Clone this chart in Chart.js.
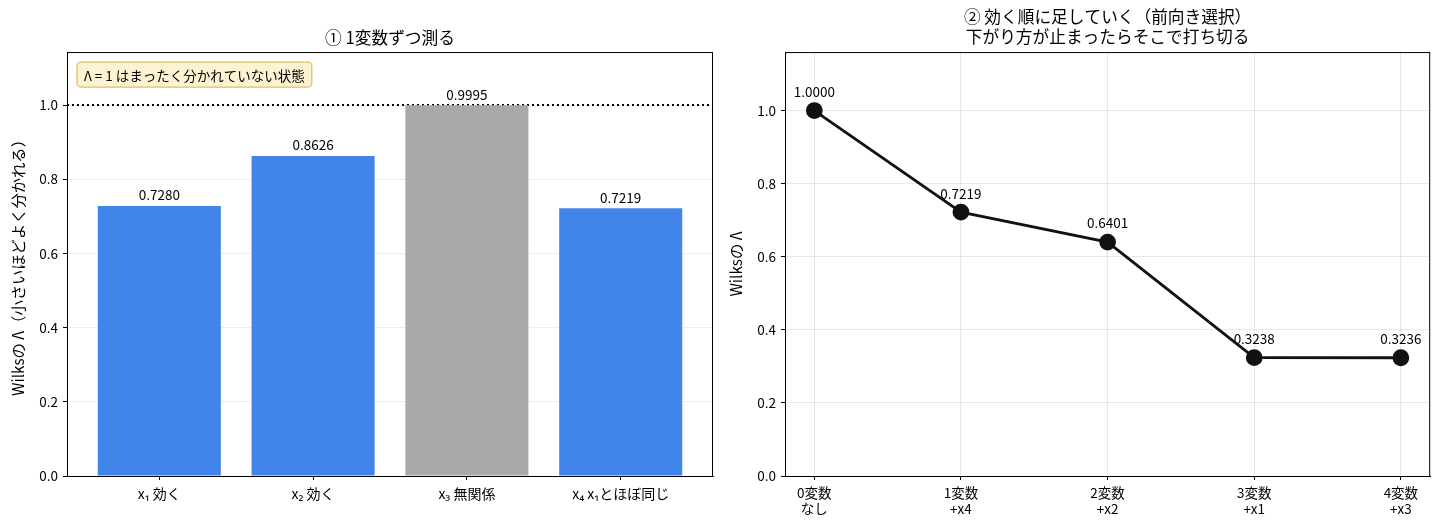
<!DOCTYPE html>
<html lang="ja">
<head>
  <meta charset="UTF-8">
  <title>Wilks Lambda</title>
  <script src="https://cdn.jsdelivr.net/npm/chart.js@4.4.1/dist/chart.umd.min.js"></script>
  <style>
    html, body { margin: 0; padding: 0; background: #fff; }
    .box { position: absolute; top: 0; width: 720px; height: 528px; }
    #leftBox { left: 0; }
    #rightBox { left: 720px; }
  </style>
</head>
<body>
  <div class="box" id="leftBox"><canvas id="barChart"></canvas></div>
  <div class="box" id="rightBox"><canvas id="stepChart"></canvas></div>

  <script>
    // left panel: one variable at a time
    const barLabels = ['x₁ 効く', 'x₂ 効く', 'x₃ 無関係', 'x₄ x₁とほぼ同じ'];
    const barValues = [0.7280, 0.8626, 0.9995, 0.7219];
    const barUseful = [true, true, false, true];

    // right panel: forward selection
    const stepLabels = [['0変数', 'なし'], ['1変数', '+x4'], ['2変数', '+x2'], ['3変数', '+x1'], ['4変数', '+x3']];
    const stepValues = [1.0000, 0.7219, 0.6401, 0.3238, 0.3236];

    const yTicks = [0, 0.2, 0.4, 0.6, 0.8, 1.0];

    const FONT = "'Noto Sans CJK JP', 'Noto Sans', sans-serif";
    Chart.defaults.font.family = FONT;
    Chart.defaults.font.size = 13.5;
    Chart.defaults.color = '#000';

    const setTicks = vals => s => { s.ticks = vals.map(v => ({ value: v })); };

    // black box around the plot area
    const frame = {
      id: 'frame',
      afterDraw(chart) {
        const { ctx, chartArea: a } = chart;
        ctx.save();
        ctx.strokeStyle = '#000';
        ctx.lineWidth = 1;
        ctx.strokeRect(a.left + 0.5, a.top + 0.5, a.right - a.left - 1, a.bottom - a.top);
        ctx.restore();
      }
    };

    // value labels above marks
    const valueLabels = (offset) => ({
      id: 'valueLabels',
      afterDatasetsDraw(chart) {
        const ctx = chart.ctx;
        const meta = chart.getDatasetMeta(0);
        ctx.save();
        ctx.font = '13.5px ' + FONT;
        ctx.fillStyle = '#000';
        ctx.textAlign = 'center';
        ctx.textBaseline = 'bottom';
        meta.data.forEach((el, i) => {
          const v = chart.data.datasets[0].data[i].y;
          ctx.fillText(v.toFixed(4), el.x, el.y - offset);
        });
        ctx.restore();
      }
    });

    // dotted reference line and note on the left panel
    const refLine = {
      id: 'refLine',
      beforeDatasetsDraw(chart) {
        const { ctx, chartArea: a, scales } = chart;
        const y = scales.y.getPixelForValue(1);
        ctx.save();
        ctx.strokeStyle = '#000';
        ctx.lineWidth = 2;
        ctx.setLineDash([2, 3]);
        ctx.beginPath();
        ctx.moveTo(a.left, y);
        ctx.lineTo(a.right, y);
        ctx.stroke();
        ctx.restore();
      },
      afterDraw(chart) {
        const { ctx, chartArea: a } = chart;
        const text = 'Λ = 1 はまったく分かれていない状態';
        ctx.save();
        ctx.font = '13.5px ' + FONT;
        const w = ctx.measureText(text).width + 14;
        const x = a.left + 10, y = a.top + 10, h = 25;
        ctx.beginPath();
        ctx.roundRect(x, y, w, h, 4);
        ctx.fillStyle = '#fdf3d3';
        ctx.fill();
        ctx.strokeStyle = '#e1bf5a';
        ctx.lineWidth = 1.2;
        ctx.stroke();
        ctx.fillStyle = '#000';
        ctx.textBaseline = 'middle';
        ctx.fillText(text, x + 7, y + h / 2 + 1);
        ctx.restore();
      }
    };

    new Chart(document.getElementById('barChart'), {
      type: 'bar',
      data: {
        datasets: [{
          data: barValues.map((v, i) => ({ x: i, y: v })),
          backgroundColor: barUseful.map(u => u ? '#4285ea' : '#a9a9a9'),
          borderWidth: 0,
          barPercentage: 0.8,
          categoryPercentage: 1.0
        }]
      },
      options: {
        responsive: true,
        maintainAspectRatio: false,
        animation: false,
        layout: { padding: { left: 0, right: 7, top: 0, bottom: 0 } },
        plugins: {
          legend: { display: false },
          tooltip: { enabled: false },
          title: {
            display: true,
            fullSize: false,
            text: '① 1変数ずつ測る',
            font: { size: 16.7, weight: 'normal', lineHeight: 1.2 },
            color: '#000',
            padding: { top: 28, bottom: 4 }
          }
        },
        scales: {
          x: {
            type: 'linear',
            offset: false,
            min: -0.6,
            max: 3.6,
            afterBuildTicks: setTicks([0, 1, 2, 3]),
            afterFit: s => { s.height = 52; },
            ticks: { callback: v => barLabels[v], padding: 5, maxRotation: 0, autoSkip: false, font: { size: 14 } },
            grid: { offset: false, drawOnChartArea: false, drawTicks: true, tickLength: 4, tickColor: '#000' },
            border: { color: '#000' }
          },
          y: {
            min: 0,
            max: 1.143,
            afterBuildTicks: setTicks(yTicks),
            afterFit: s => { s.width = 67; },
            ticks: { callback: v => v.toFixed(1), padding: 5 },
            grid: { color: 'rgba(0,0,0,0.07)', tickLength: 4, tickColor: '#000' },
            border: { color: '#000' },
            title: {
              display: true,
              text: 'Wilksの Λ（小さいほどよく分かれる）',
              font: { size: 15.3 },
              padding: { top: 9, bottom: 0 }
            }
          }
        }
      },
      plugins: [refLine, valueLabels(4), frame]
    });

    new Chart(document.getElementById('stepChart'), {
      type: 'line',
      data: {
        datasets: [{
          data: stepValues.map((v, i) => ({ x: i, y: v })),
          borderColor: '#111',
          backgroundColor: '#111',
          borderWidth: 2.8,
          pointRadius: 7,
          pointBackgroundColor: '#111',
          pointBorderColor: '#111',
          tension: 0
        }]
      },
      options: {
        responsive: true,
        maintainAspectRatio: false,
        animation: false,
        layout: { padding: { left: 0, right: 8, top: 0, bottom: 0 } },
        plugins: {
          legend: { display: false },
          tooltip: { enabled: false },
          title: {
            display: true,
            fullSize: false,
            text: ['② 効く順に足していく（前向き選択）', '下がり方が止まったらそこで打ち切る'],
            font: { size: 16.7, weight: 'normal', lineHeight: 1.2 },
            color: '#000',
            padding: { top: 7, bottom: 5 }
          }
        },
        scales: {
          x: {
            type: 'linear',
            min: -0.2,
            max: 4.2,
            afterBuildTicks: setTicks([0, 1, 2, 3, 4]),
            afterFit: s => { s.height = 52; },
            ticks: { callback: v => stepLabels[v], padding: 5, maxRotation: 0, autoSkip: false, font: { size: 13.5, lineHeight: 1.2 } },
            grid: { color: 'rgba(0,0,0,0.09)', tickLength: 4, tickColor: '#000' },
            border: { color: '#000' }
          },
          y: {
            min: 0,
            max: 1.16,
            afterBuildTicks: setTicks(yTicks),
            afterFit: s => { s.width = 65; },
            ticks: { callback: v => v.toFixed(1), padding: 5 },
            grid: { color: 'rgba(0,0,0,0.09)', tickLength: 4, tickColor: '#000' },
            border: { color: '#000' },
            title: {
              display: true,
              text: 'Wilksの Λ',
              font: { size: 15.3 },
              padding: { top: 7, bottom: 0 }
            }
          }
        }
      },
      plugins: [valueLabels(12), frame]
    });
  </script>
</body>
</html>
